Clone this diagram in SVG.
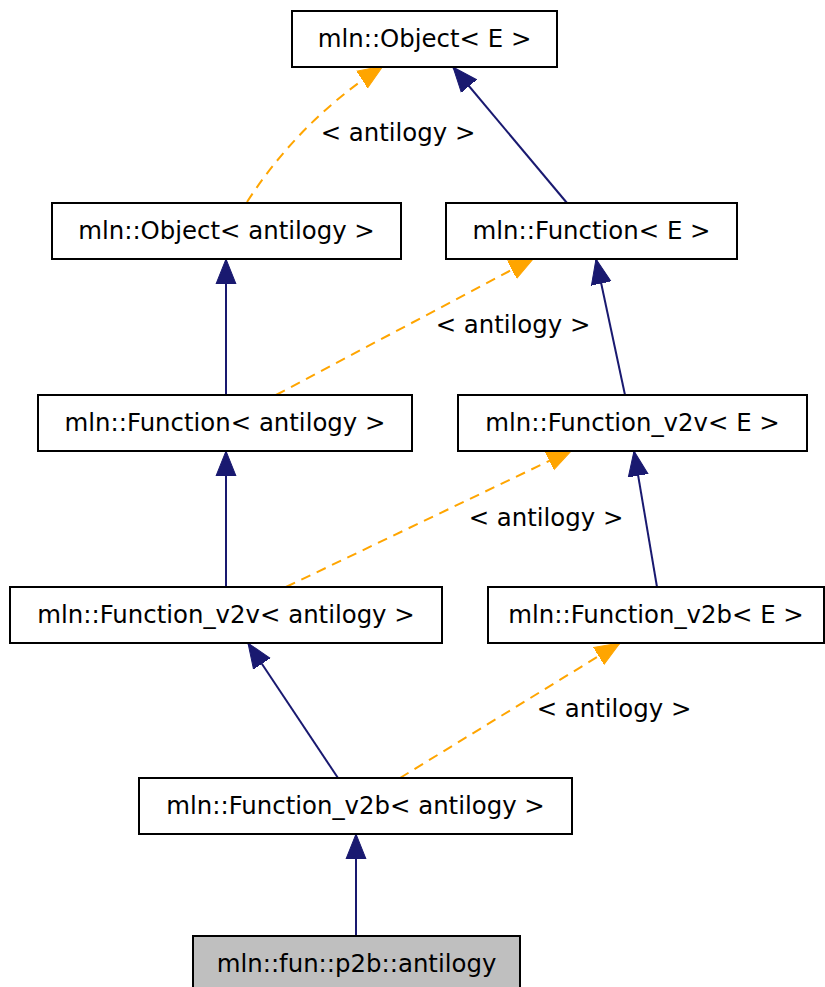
<svg xmlns="http://www.w3.org/2000/svg" width="825" height="987" viewBox="0 0 825 987">
<defs>
<style>
.node rect{fill:#fff;stroke:#000;stroke-width:2}
.node.cur rect{fill:#bfbfbf}
text{font-family:"DejaVu Sans",sans-serif;font-size:24.4px;fill:#000;text-anchor:middle}
.inh{stroke:#191970;stroke-width:2;fill:none;marker-end:url(#an)}
.tpl{stroke:#ffa500;stroke-width:2;fill:none;stroke-dasharray:10,7;marker-end:url(#ao)}
</style>
<marker id="an" markerUnits="userSpaceOnUse" markerWidth="26" markerHeight="22" refX="25" refY="11" orient="auto" viewBox="0 0 26 22"><path d="M0,1 L25,11 L0,21 z" fill="#191970" stroke="#191970" stroke-width="1"/></marker>
<marker id="ao" markerUnits="userSpaceOnUse" markerWidth="26" markerHeight="22" refX="25" refY="11" orient="auto" viewBox="0 0 26 22"><path d="M0,1 L25,11 L0,21 z" fill="#ffa500" stroke="#ffa500" stroke-width="1"/></marker>
</defs>
<rect width="825" height="987" fill="#fff"/>
<g id="edges">
<path class="tpl" d="M247,202 Q300,120 383,66"/>
<text x="398" y="141">&lt; antilogy &gt;</text>
<path class="inh" d="M567,203 L453,67"/>
<path class="inh" d="M226,395 L226,259"/>
<path class="tpl" d="M276,395 L534,258"/>
<text x="513" y="333">&lt; antilogy &gt;</text>
<path class="inh" d="M625,395 L596,259"/>
<path class="inh" d="M226,587 L226,451"/>
<path class="tpl" d="M286,587 L572,450"/>
<text x="546" y="526">&lt; antilogy &gt;</text>
<path class="inh" d="M657,587 L634,451"/>
<path class="inh" d="M338,778 L248,643"/>
<path class="tpl" d="M400,778 L620,643"/>
<text x="614" y="717">&lt; antilogy &gt;</text>
<path class="inh" d="M356,936 L356,834"/>
</g>
<g id="n1" class="node"><rect x="292" y="11" width="265" height="56"/><text x="424.5" y="47">mln::Object&lt; E &gt;</text></g>
<g id="n2" class="node"><rect x="52" y="203" width="349" height="56"/><text x="226.5" y="239">mln::Object&lt; antilogy &gt;</text></g>
<g id="n3" class="node"><rect x="446" y="203" width="291" height="56"/><text x="591.5" y="239">mln::Function&lt; E &gt;</text></g>
<g id="n4" class="node"><rect x="38" y="395" width="374" height="56"/><text x="225" y="431">mln::Function&lt; antilogy &gt;</text></g>
<g id="n5" class="node"><rect x="458" y="395" width="349" height="56"/><text x="632.5" y="431">mln::Function_v2v&lt; E &gt;</text></g>
<g id="n6" class="node"><rect x="10" y="587" width="432" height="56"/><text x="226" y="623">mln::Function_v2v&lt; antilogy &gt;</text></g>
<g id="n7" class="node"><rect x="488" y="587" width="336" height="56"/><text x="656" y="623">mln::Function_v2b&lt; E &gt;</text></g>
<g id="n8" class="node"><rect x="139" y="778" width="433" height="56"/><text x="355.5" y="814">mln::Function_v2b&lt; antilogy &gt;</text></g>
<g id="n9" class="node cur"><rect x="193" y="936" width="327" height="56"/><text x="356.5" y="972">mln::fun::p2b::antilogy</text></g>
</svg>
